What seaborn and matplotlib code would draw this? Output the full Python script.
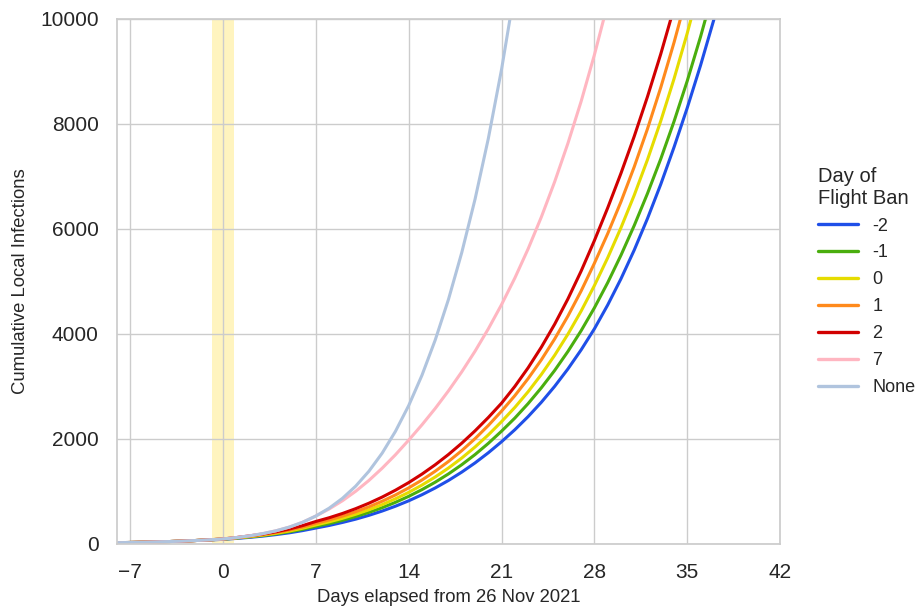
import numpy as np
import pandas as pd
import matplotlib
matplotlib.use("Agg")
import matplotlib.pyplot as plt
import seaborn as sns

sns.set_theme(style="whitegrid")
plt.rcParams["font.family"] = ["Liberation Sans", "DejaVu Sans"]

# ---- data (cumulative local infections, one value per day starting at day -8) ----
start_day = -8
ban_labels = ["-2", "-1", "0", "1", "2", "7", "None"]

ban_m2 = [21, 25, 30, 36, 43, 52, 63, 73, 85, 102, 122, 146, 175, 209, 251, 300,
          349, 406, 469, 542, 624, 716, 819, 935, 1064, 1207, 1366, 1541, 1734, 1945,
          2173, 2423, 2697, 2999, 3331, 3696, 4097, 4550, 5049, 5597, 6198, 6850, 7556,
          8309, 9116, 9985, 10915]
ban_m1 = [21, 25, 30, 36, 43, 52, 63, 76, 90, 108, 131, 157, 189, 228, 275, 331,
          385, 447, 518, 598, 688, 790, 904, 1032, 1174, 1332, 1507, 1700, 1913, 2146,
          2395, 2671, 2973, 3302, 3664, 4061, 4497, 4975, 5498, 6064, 6675, 7333, 8047,
          8822, 9662, 10572]
ban_0 = [21, 25, 30, 36, 43, 52, 63, 76, 92, 112, 136, 165, 200, 243, 296, 359,
         418, 485, 562, 648, 746, 857, 980, 1119, 1273, 1444, 1634, 1844, 2075, 2328,
         2598, 2897, 3227, 3591, 3993, 4435, 4921, 5449, 6022, 6642, 7319, 8056, 8859,
         9732, 10680]
ban_1 = [21, 25, 30, 36, 43, 52, 63, 76, 92, 118, 144, 176, 214, 262, 319, 390,
         454, 527, 610, 704, 811, 930, 1065, 1215, 1383, 1569, 1775, 2003, 2254, 2528,
         2822, 3147, 3506, 3902, 4338, 4818, 5346, 5909, 6517, 7182, 7906, 8694, 9551,
         10482]
ban_2 = [21, 25, 30, 36, 43, 52, 63, 76, 92, 118, 151, 186, 229, 281, 346, 425,
         496, 577, 669, 773, 890, 1021, 1166, 1328, 1506, 1702, 1917, 2152, 2406, 2680,
         2998, 3353, 3747, 4183, 4665, 5197, 5779, 6400, 7059, 7763, 8520, 9332, 10211,
         11150]
ban_7 = [21, 25, 30, 36, 43, 52, 63, 76, 92, 118, 151, 194, 248, 318, 410, 529,
         663, 819, 1000, 1207, 1440, 1696, 1975, 2267, 2579, 2915, 3277, 3669, 4095,
         4558, 5063, 5618, 6227, 6896, 7629, 8431, 9318, 10288]
ban_none = [21, 25, 30, 36, 43, 52, 63, 76, 92, 118, 151, 194, 248, 318, 410, 529,
            678, 865, 1097, 1382, 1727, 2142, 2634, 3211, 3883, 4658, 5549, 6564, 7719,
            9040, 10557, 12290]

series = [ban_m2, ban_m1, ban_0, ban_1, ban_2, ban_7, ban_none]
colors = ["#1f4fe8", "#4aae0e", "#e6dc00", "#ff8a1c", "#d10000", "#ffb6c1", "#b0c4de"]

x_ticks = [-7, 0, 7, 14, 21, 28, 35, 42]
y_ticks = [0, 2000, 4000, 6000, 8000, 10000]
ban_window = (-0.85, 0.85)

frames = []
for lab, vals in zip(ban_labels, series):
    frames.append(pd.DataFrame({
        "day": np.arange(start_day, start_day + len(vals)),
        "cases": vals,
        "ban": lab,
    }))
df = pd.concat(frames, ignore_index=True)

fig = plt.figure(figsize=(9.2, 6.11), dpi=100)
ax = fig.add_axes([0.127, 0.110, 0.721, 0.859])

ax.axvspan(*ban_window, color="gold", alpha=0.25, lw=0, zorder=0)

sns.lineplot(data=df, x="day", y="cases", hue="ban", hue_order=ban_labels,
             palette=dict(zip(ban_labels, colors)), linewidth=2.2, ax=ax)

ax.set_xlim(-8, 42)
ax.set_ylim(0, 10000)
ax.set_xticks(x_ticks)
ax.set_yticks(y_ticks)
ax.tick_params(axis="both", labelsize=15)
ax.tick_params(axis="y", pad=7)
ax.tick_params(axis="x", pad=8)
ax.set_xlabel("Days elapsed from 26 Nov 2021", fontsize=13.3, labelpad=5)
ax.set_ylabel("Cumulative Local Infections", fontsize=13.3, labelpad=8)

leg = ax.legend(title="Day of\nFlight Ban", loc="center left",
                bbox_to_anchor=(1.033, 0.5), frameon=False, fontsize=13,
                title_fontsize=14.5, handlelength=2.2, labelspacing=0.55)
leg._legend_box.align = "left"
for line in leg.get_lines():
    line.set_linewidth(2.4)

fig.savefig("out.png", dpi=100)
